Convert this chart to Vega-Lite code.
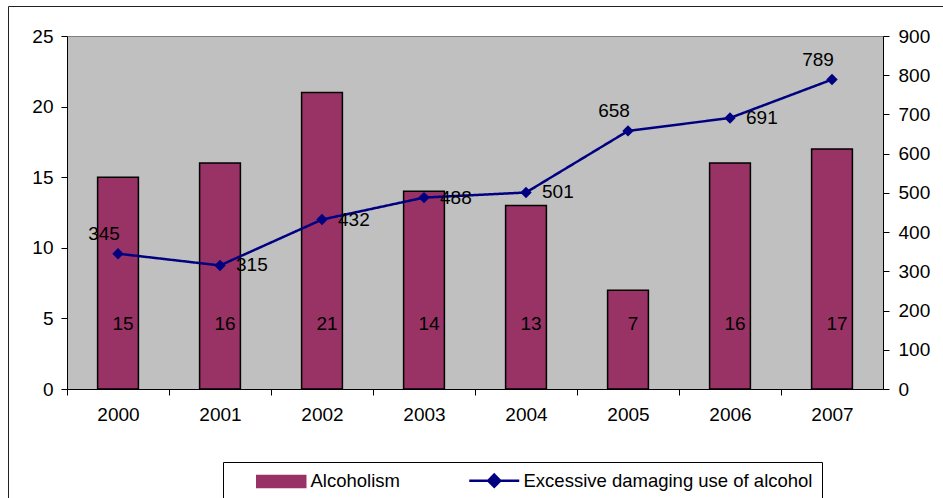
{
  "$schema": "https://vega.github.io/schema/vega-lite/v6.json",
  "autosize": {"type": "none"},
  "padding": {"left": 67, "top": 36, "right": 60, "bottom": 109},
  "width": 816,
  "height": 353,
  "background": "white",
  "config": {
    "font": "Liberation Sans",
    "view": {"fill": "#C0C0C0", "stroke": "#808080", "strokeWidth": 1},
    "axis": {
      "domainColor": "black", "tickColor": "black", "labelColor": "black",
      "labelFontSize": 19, "labelFont": "Liberation Sans", "grid": false,
      "title": null, "tickSize": 6, "domainWidth": 1, "tickWidth": 1
    }
  },
  "data": {
    "values": [
      {"year": 2000, "alcoholism": 15, "excessive": 345},
      {"year": 2001, "alcoholism": 16, "excessive": 315},
      {"year": 2002, "alcoholism": 21, "excessive": 432},
      {"year": 2003, "alcoholism": 14, "excessive": 488},
      {"year": 2004, "alcoholism": 13, "excessive": 501},
      {"year": 2005, "alcoholism": 7, "excessive": 658},
      {"year": 2006, "alcoholism": 16, "excessive": 691},
      {"year": 2007, "alcoholism": 17, "excessive": 789}
    ]
  },
  "layer": [
    {
      "layer": [
        {
          "mark": {"type": "bar", "stroke": "black", "strokeWidth": 1.5},
          "encoding": {
            "x": {"field": "year", "type": "ordinal",
              "scale": {"paddingInner": 0.6, "paddingOuter": 0.3},
              "axis": {"labelAngle": 0, "tickOffset": -51, "labelOffset": 51, "labelPadding": 10}},
            "y": {"field": "alcoholism", "type": "quantitative",
              "scale": {"domain": [0, 25], "nice": false},
              "axis": {"values": [0, 5, 10, 15, 20, 25], "labelPadding": 8}},
            "color": {"datum": "Alcoholism", "type": "nominal",
              "scale": {"domain": ["Alcoholism", "Excessive damaging use of alcohol"], "range": ["#993366", "#000080"]},
              "legend": {
                "orient": "none", "legendX": 156, "legendY": 426,
                "direction": "horizontal", "title": null,
                "labelFontSize": 18.5, "labelColor": "black", "labelFont": "Liberation Sans", "labelLimit": 600,
                "labelExpr": "datum.value === 'Alcoholism' ? datum.label : datum.label + '\u00a0\u00a0\u00a0\u00a0\u00a0'",
                "strokeColor": "black", "fillColor": "white", "padding": 9,
                "symbolSize": 400, "symbolOffset": 40, "labelOffset": 20, "columnPadding": 45,
                "encoding": {
                  "symbols": {
                    "shape": {"value": {"expr": "datum.value === 'Alcoholism' ? 'M-2.45,-0.6H2.45V0.6H-2.45Z' : 'M-2.5,0H2.5M0,-0.6L0.6,0L0,0.6L-0.6,0Z'"}},
                    "fill": {"value": {"expr": "datum.value === 'Alcoholism' ? '#993366' : '#000080'"}},
                    "stroke": {"value": {"expr": "datum.value === 'Alcoholism' ? 'black' : '#000080'"}},
                    "strokeWidth": {"value": {"expr": "datum.value === 'Alcoholism' ? 1.5 : 2.5"}},
                    "opacity": {"value": 1}
                  }
                }
              }}
          }
        },
        {
          "mark": {"type": "text", "fontSize": 19, "dx": 5, "color": "black", "font": "Liberation Sans"},
          "encoding": {
            "x": {"field": "year", "type": "ordinal"},
            "y": {"datum": 4.6, "type": "quantitative",
              "scale": {"domain": [0, 25], "nice": false},
              "axis": {"values": [0, 5, 10, 15, 20, 25], "labelPadding": 8}},
            "text": {"field": "alcoholism", "type": "quantitative"}
          }
        }
      ]
    },
    {
      "layer": [
        {
          "mark": {"type": "line", "strokeWidth": 2.5, "point": {"shape": "diamond", "size": 130, "filled": true}},
          "encoding": {
            "x": {"field": "year", "type": "ordinal"},
            "y": {"field": "excessive", "type": "quantitative",
              "scale": {"domain": [0, 900], "nice": false},
              "axis": {"orient": "right", "values": [0, 100, 200, 300, 400, 500, 600, 700, 800, 900], "labelPadding": 9}},
            "color": {"datum": "Excessive damaging use of alcohol", "type": "nominal"},
            "strokeDash": {"datum": "frame", "type": "nominal",
              "scale": {"range": [[1, 0]]},
              "legend": {"orient": "none", "legendX": -59, "legendY": -30, "title": null,
                "strokeColor": "#222222", "fillColor": null, "padding": 700,
                "symbolOpacity": 0, "labelOpacity": 0, "labelExpr": "''"}}
          }
        },
        {
          "transform": [{"filter": "datum.year == 2001 || datum.year == 2002 || datum.year == 2003 || datum.year == 2004 || datum.year == 2006"}],
          "mark": {"type": "text", "fontSize": 19, "align": "left", "dx": 16, "color": "black", "font": "Liberation Sans"},
          "encoding": {
            "x": {"field": "year", "type": "ordinal"},
            "y": {"field": "excessive", "type": "quantitative",
              "scale": {"domain": [0, 900], "nice": false},
              "axis": {"orient": "right", "values": [0, 100, 200, 300, 400, 500, 600, 700, 800, 900], "labelPadding": 9}},
            "text": {"field": "excessive", "type": "quantitative"}
          }
        },
        {
          "transform": [{"filter": "datum.year == 2000 || datum.year == 2005 || datum.year == 2007"}],
          "mark": {"type": "text", "fontSize": 19, "align": "center", "dx": -14, "dy": -20, "color": "black", "font": "Liberation Sans"},
          "encoding": {
            "x": {"field": "year", "type": "ordinal"},
            "y": {"field": "excessive", "type": "quantitative",
              "scale": {"domain": [0, 900], "nice": false},
              "axis": {"orient": "right", "values": [0, 100, 200, 300, 400, 500, 600, 700, 800, 900], "labelPadding": 9}},
            "text": {"field": "excessive", "type": "quantitative"}
          }
        }
      ]
    }
  ],
  "resolve": {"scale": {"y": "independent"}}
}
